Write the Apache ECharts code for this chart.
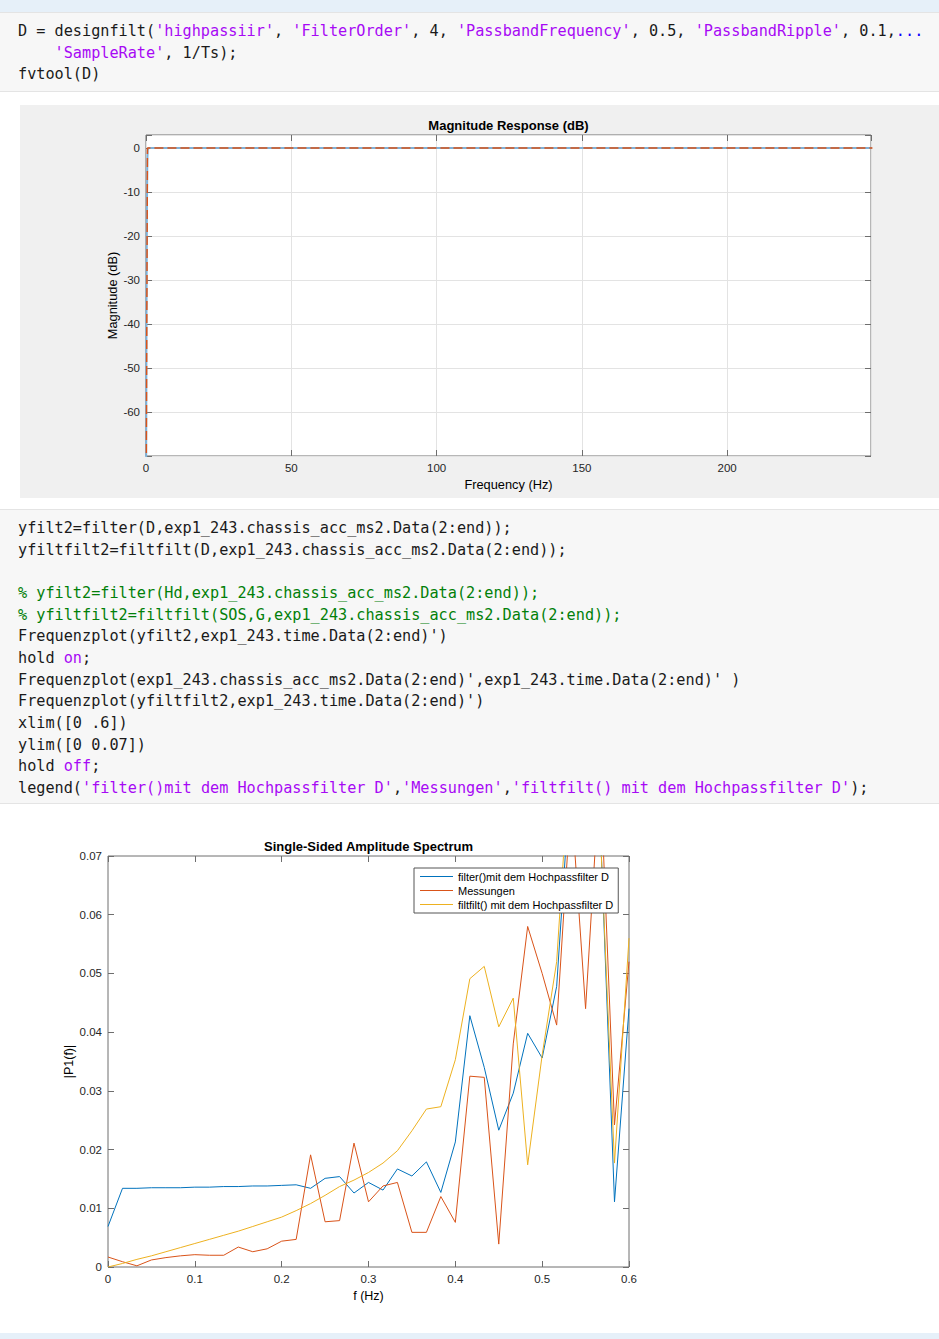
<!DOCTYPE html>
<html>
<head>
<meta charset="utf-8">
<script src="https://cdn.jsdelivr.net/npm/echarts@6/dist/echarts.min.js"></script>
<style>
  html, body { margin:0; padding:0; background:#fff; }
  body { width:939px; height:1339px; position:relative; overflow:hidden; font-family:'Liberation Sans', Arial, sans-serif; }
  .band { position:absolute; left:0; width:939px; background:#e6f0f9; }
  .code { position:absolute; left:0; width:939px; background:#f7f7f7; border-top:1px solid #e4e4e4; border-bottom:1px solid #e4e4e4; box-sizing:border-box;
          font-family:'DejaVu Sans Mono', monospace; font-size:15.2px; color:#1a1a1a; padding:8px 0 0 18px; }
  .code div { height:21.67px; line-height:21.67px; white-space:pre; }
  .s { color:#a709f5; }
  .c { color:#028009; }
  .k { color:#0e00ff; }
  #fig1 { position:absolute; left:20px; top:105px; width:919px; height:393px; background:#f0f0f0; }
  #fig2 { position:absolute; left:0px; top:820px; width:700px; height:500px; background:#fff; }
</style>
</head>
<body>
<div class="band" style="top:0;height:12px;"></div>
<div class="code" style="top:12px;height:80px;">
<div>D = designfilt(<span class="s">'highpassiir'</span>, <span class="s">'FilterOrder'</span>, 4, <span class="s">'PassbandFrequency'</span>, 0.5, <span class="s">'PassbandRipple'</span>, 0.1,<span class="k">...</span></div>
<div>    <span class="s">'SampleRate'</span>, 1/Ts);</div>
<div>fvtool(D)</div>
</div>
<div id="fig1"></div>
<div class="code" style="top:509px;height:295px;">
<div>yfilt2=filter(D,exp1_243.chassis_acc_ms2.Data(2:end));</div>
<div>yfiltfilt2=filtfilt(D,exp1_243.chassis_acc_ms2.Data(2:end));</div>
<div> </div>
<div><span class="c">% yfilt2=filter(Hd,exp1_243.chassis_acc_ms2.Data(2:end));</span></div>
<div><span class="c">% yfiltfilt2=filtfilt(SOS,G,exp1_243.chassis_acc_ms2.Data(2:end));</span></div>
<div>Frequenzplot(yfilt2,exp1_243.time.Data(2:end)')</div>
<div>hold <span class="s">on</span>;</div>
<div>Frequenzplot(exp1_243.chassis_acc_ms2.Data(2:end)',exp1_243.time.Data(2:end)' )</div>
<div>Frequenzplot(yfiltfilt2,exp1_243.time.Data(2:end)')</div>
<div>xlim([0 .6])</div>
<div>ylim([0 0.07])</div>
<div>hold <span class="s">off</span>;</div>
<div>legend(<span class="s">'filter()mit dem Hochpassfilter D'</span>,<span class="s">'Messungen'</span>,<span class="s">'filtfilt() mit dem Hochpassfilter D'</span>);</div>
</div>
<div id="fig2"></div>
<div class="band" style="top:1333px;height:6px;"></div>
<script>
// ---------- Figure 1: Magnitude Response (dB) ----------
const magFreqResp = [0, 0.15, 0.3, 0.45, 0.6, 1, 250];
const magResp     = [-90, -40, -15, -3, -0.3, 0, 0];
const magFreqMask = [0, 0.5, 250];
const magMask     = [-90, 0, 0];
const magYTicks   = [0, -10, -20, -30, -40, -50, -60];
const magXTicks   = [0, 50, 100, 150, 200];

// ---------- Figure 2: Single-Sided Amplitude Spectrum ----------
const freqHz = [0, 0.0167, 0.0333, 0.05, 0.0667, 0.0833, 0.1, 0.1167, 0.1333, 0.15, 0.1667, 0.1833,
  0.2, 0.2167, 0.2333, 0.25, 0.2667, 0.2833, 0.3, 0.3167, 0.3333, 0.35, 0.3667, 0.3833,
  0.4, 0.4167, 0.4333, 0.45, 0.4667, 0.4833, 0.5, 0.5167, 0.5333, 0.55, 0.5667, 0.5833, 0.6];
const filterD = [0.0069, 0.0134, 0.0134, 0.0135, 0.0135, 0.0135, 0.0136, 0.0136, 0.0137, 0.0137, 0.0138, 0.0138,
  0.0139, 0.0140, 0.0134, 0.0151, 0.0154, 0.0126, 0.0144, 0.0131, 0.0167, 0.0155, 0.0179, 0.0127,
  0.0213, 0.0428, 0.0340, 0.0233, 0.0296, 0.0398, 0.0356, 0.0478, 0.0850, 0.0820, 0.0760, 0.0111, 0.0440];
const messungen = [0.0017, 0.0009, 0.0002, 0.0012, 0.0016, 0.0019, 0.0021, 0.0020, 0.0020, 0.0034, 0.0026, 0.0031,
  0.0044, 0.0047, 0.0191, 0.0077, 0.0079, 0.0211, 0.0111, 0.0138, 0.0144, 0.0059, 0.0059, 0.0120,
  0.0076, 0.0325, 0.0323, 0.0039, 0.0380, 0.0580, 0.0500, 0.0412, 0.0800, 0.0440, 0.0850, 0.0242, 0.0520];
const filtfiltD = [0.0000, 0.0006, 0.0013, 0.0019, 0.0026, 0.0033, 0.0040, 0.0047, 0.0054, 0.0061, 0.0069, 0.0077,
  0.0085, 0.0096, 0.0108, 0.0122, 0.0137, 0.0148, 0.0161, 0.0177, 0.0198, 0.0232, 0.0269, 0.0273,
  0.0353, 0.0491, 0.0512, 0.0409, 0.0458, 0.0174, 0.0361, 0.0520, 0.0900, 0.0800, 0.0750, 0.0177, 0.0560];
const seriesNames = ['filter()mit dem Hochpassfilter D', 'Messungen', 'filtfilt() mit dem Hochpassfilter D'];
const specXTicks = [0, 0.1, 0.2, 0.3, 0.4, 0.5, 0.6];
const specYTicks = [0, 0.01, 0.02, 0.03, 0.04, 0.05, 0.06, 0.07];

const FONT = 'Liberation Sans, Arial, Helvetica, sans-serif';
const AX = '#6e6e6e';
const LBL = '#262626';

function pairs(xs, ys) { return xs.map((x, i) => [x, ys[i]]); }
function near(v, list) { return list.some(t => Math.abs(t - v) < 1e-9); }

function boxAxes(cfg) {
  const tick = { show:true, inside:true, length:6, lineStyle:{ color:AX, width:1 } };
  const line = { show:false, onZero:false };
  const xa = [
    { type:'value', position:'bottom', min:cfg.xmin, max:cfg.xmax, interval:cfg.xint,
      axisLine:line, axisTick:tick,
      axisLabel:{ show:true, margin:6, color:LBL, fontFamily:FONT, fontSize:cfg.fs, showMaxLabel:cfg.showMaxX,
        formatter: v => near(v, cfg.xticks) ? cfg.xfmt(v) : '' },
      splitLine:{ show:cfg.grid, lineStyle:{ color:'#e3e3e3', width:1 } },
      name:cfg.xname, nameLocation:'middle', nameGap:cfg.xnameGap, nameMoveOverlap:false,
      nameTextStyle:{ color:'#000', fontFamily:FONT, fontSize:cfg.nfs } },
    { type:'value', position:'top', min:cfg.xmin, max:cfg.xmax, interval:cfg.xint,
      axisLine:line, axisTick:tick, axisLabel:{ show:false }, splitLine:{ show:false } }
  ];
  const ya = [
    { type:'value', position:'left', min:cfg.ymin, max:cfg.ymax, interval:cfg.yint,
      axisLine:line, axisTick:tick,
      axisLabel:{ show:true, margin:6, color:LBL, fontFamily:FONT, fontSize:cfg.fs,
        formatter: v => near(v, cfg.yticks) ? cfg.yfmt(v) : '' },
      splitLine:{ show:cfg.grid, lineStyle:{ color:'#e3e3e3', width:1 } },
      name:cfg.yname, nameLocation:'middle', nameGap:cfg.ynameGap, nameRotate:90, nameMoveOverlap:false,
      nameTextStyle:{ color:'#000', fontFamily:FONT, fontSize:cfg.nfs } },
    { type:'value', position:'right', min:cfg.ymin, max:cfg.ymax, interval:cfg.yint,
      axisLine:line, axisTick:tick, axisLabel:{ show:false }, splitLine:{ show:false } }
  ];
  return { xa, ya };
}

// Figure 1
const c1 = echarts.init(document.getElementById('fig1'), null, { renderer:'svg' });
const a1 = boxAxes({ xmin:0, xmax:249.5, xint:50, ymin:-70, ymax:2.95, yint:10, fs:11.5, nfs:12.8,
  xticks:magXTicks, yticks:magYTicks, xfmt:v => String(v), yfmt:v => String(v), grid:true, showMaxX:false,
  xname:'Frequency (Hz)', xnameGap:22, yname:'Magnitude (dB)', ynameGap:27 });
c1.setOption({
  animation:false,
  grid:{ left:126, top:30, width:725, height:321, show:true, backgroundColor:'#fff', borderColor:AX, borderWidth:1, containLabel:false },
  graphic:[{ type:'text', x:488.5, y:20, style:{ text:'Magnitude Response (dB)', align:'center', verticalAlign:'middle',
    textAlign:'center', textVerticalAlign:'middle', font:'bold 13px ' + FONT, fill:'#000' } }],
  xAxis:a1.xa, yAxis:a1.ya,
  series:[
    { type:'line', data:pairs(magFreqResp, magResp), symbol:'none', clip:true,
      lineStyle:{ color:'#7fb1d7', width:2 } },
    { type:'line', data:pairs(magFreqMask, magMask), symbol:'none', clip:true,
      lineStyle:{ color:'#d95319', width:1.5, type:[9, 4] } }
  ]
});

// Figure 2
const c2 = echarts.init(document.getElementById('fig2'), null, { renderer:'svg' });
const a2 = boxAxes({ xmin:0, xmax:0.6, xint:0.1, ymin:0, ymax:0.07, yint:0.01, fs:11.5, nfs:12.5,
  xticks:specXTicks, yticks:specYTicks, xfmt:v => (v === 0 ? '0' : v.toFixed(1)), yfmt:v => (v === 0 ? '0' : v.toFixed(2)),
  grid:false, showMaxX:true,
  xname:'f (Hz)', xnameGap:22, yname:'|P1(f)|', ynameGap:33 });
const colors = ['#0072bd', '#d95319', '#edb120'];
const vals = [filterD, messungen, filtfiltD];
c2.setOption({
  animation:false,
  grid:{ left:108, top:36, width:521, height:411, show:true, backgroundColor:'#fff', borderColor:AX, borderWidth:1, containLabel:false },
  graphic:[{ type:'text', x:368.5, y:26, style:{ text:'Single-Sided Amplitude Spectrum', align:'center', verticalAlign:'middle',
    textAlign:'center', textVerticalAlign:'middle', font:'bold 13px ' + FONT, fill:'#000' } }],
  legend:{ data:seriesNames, orient:'vertical', left:414, top:48, icon:'rect', itemWidth:33, itemHeight:1, itemGap:1,
    padding:[2, 5, 2, 6], backgroundColor:'#fff', borderColor:'#555', borderWidth:1, borderRadius:0,
    textStyle:{ color:'#000', fontFamily:FONT, fontSize:11, lineHeight:13, padding:[0, 0, 0, 0] }, selectedMode:false },
  xAxis:a2.xa, yAxis:a2.ya,
  series: seriesNames.map((n, k) => ({
    name:n, type:'line', data:pairs(freqHz, vals[k]), symbol:'none', clip:true,
    lineStyle:{ color:colors[k], width:1 }, itemStyle:{ color:colors[k] }
  }))
});
</script>
</body>
</html>
